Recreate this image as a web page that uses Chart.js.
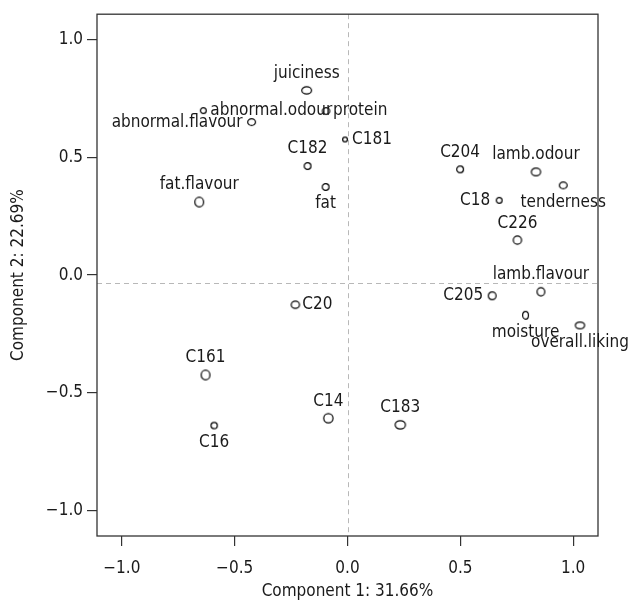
<!DOCTYPE html>
<html>
<head>
<meta charset="utf-8">
<script src="https://cdn.jsdelivr.net/npm/chart.js@4"></script>
<style>
  html, body { margin: 0; padding: 0; background: #fff; }
  #wrap { width: 630px; height: 603px; position: relative; }
</style>
</head>
<body>
<div id="wrap"><canvas id="pca"></canvas></div>
<script>
/* ─── DATA ─────────────────────────────────────────────────── */
const LABELS = [
  'juiciness', 'abnormal.odour', 'protein', 'abnormal.flavour', 'C181', 'C182',
  'fat.flavour', 'fat', 'C204', 'lamb.odour', 'tenderness', 'C18', 'C226',
  'lamb.flavour', 'C205', 'moisture', 'overall.liking', 'C20', 'C161', 'C14',
  'C183', 'C16',
];
const COMP1 = [
  -0.181, -0.639, -0.095, -0.425, -0.011, -0.177,
  -0.657, -0.097, 0.499, 0.835, 0.956, 0.672, 0.753,
  0.857, 0.641, 0.789, 1.030, -0.231, -0.629, -0.085,
  0.234, -0.591,
];
const COMP2 = [
  0.786, 0.700, 0.698, 0.651, 0.577, 0.464,
  0.311, 0.375, 0.450, 0.439, 0.382, 0.318, 0.149,
  -0.071, -0.088, -0.171, -0.214, -0.126, -0.425, -0.609,
  -0.637, -0.640,
];
const TICKS     = [-1.0, -0.5, 0.0, 0.5, 1.0];
const REF_X     = [0];
const REF_Y     = [-0.034];
const X_TITLE   = 'Component 1: 31.66%';
const Y_TITLE   = 'Component 2: 22.69%';

/* ─── STYLE (marker ellipse size, label side) ──────────────── */
const MARK_W = [11, 7, 8.5, 9, 6, 8, 10, 8, 8, 10.5, 9, 7, 9.5, 9, 9, 7, 10.5, 9.5, 10, 10.5, 11.5, 7.5];
const MARK_H = [8.5, 7, 8, 8, 6, 8, 11, 8, 8, 9, 8, 7, 9.5, 9.5, 9, 9, 8, 8.5, 11, 10.5, 9.5, 7.5];
const LABEL_SIDE = [
  'top', 'right', 'right', 'left', 'right', 'top',
  'top', 'bottom', 'top', 'top', 'bottom', 'left', 'top',
  'top', 'left', 'bottom', 'bottom', 'right', 'top', 'top',
  'top', 'bottom',
];

const FONT = '"Liberation Sans Narrow", "DejaVu Sans Condensed", "Roboto", sans-serif';
const TXT  = '#1a1a1a';

/** Vẽ marker hình ellipse rỗng */
function ellipseMark(w, h) {
  const c = document.createElement('canvas');
  c.width = Math.ceil(w + 2); c.height = Math.ceil(h + 2);
  const g = c.getContext('2d');
  g.strokeStyle = '#000'; g.lineWidth = 1.2;
  g.beginPath();
  g.ellipse(c.width / 2, c.height / 2, (w - 1.2) / 2, (h - 1.2) / 2, 0, 0, Math.PI * 2);
  g.stroke();
  return c;
}

const fmtTick = v => (Math.abs(v) < 1e-9 ? 0 : v).toFixed(1).replace('-', '\u2212');

/* ─── PLUGINS ──────────────────────────────────────────────── */
const framePlugin = {
  id: 'frame',
  beforeDatasetsDraw(chart) {
    const { ctx, chartArea: a, scales: { x, y } } = chart;
    ctx.save();
    ctx.strokeStyle = '#b8b8b8'; ctx.lineWidth = 1; ctx.setLineDash([5, 4]);
    REF_X.forEach(v => {
      const px = Math.round(x.getPixelForValue(v)) + 0.5;
      ctx.beginPath(); ctx.moveTo(px, a.top); ctx.lineTo(px, a.bottom); ctx.stroke();
    });
    REF_Y.forEach(v => {
      const py = Math.round(y.getPixelForValue(v)) + 0.5;
      ctx.beginPath(); ctx.moveTo(a.left, py); ctx.lineTo(a.right, py); ctx.stroke();
    });
    ctx.setLineDash([]);
    ctx.strokeStyle = '#333'; ctx.lineWidth = 1.3;
    ctx.strokeRect(a.left, a.top, a.right - a.left, a.bottom - a.top);
    ctx.restore();
  },
};

const labelPlugin = {
  id: 'pointLabels',
  afterDatasetsDraw(chart) {
    const { ctx } = chart;
    const meta = chart.getDatasetMeta(0);
    ctx.save();
    ctx.fillStyle = TXT;
    ctx.font = '17px ' + FONT;
    meta.data.forEach((pt, i) => {
      const side = LABEL_SIDE[i];
      let tx = pt.x, ty = pt.y;
      ctx.textAlign = 'center'; ctx.textBaseline = 'middle';
      if (side === 'top')    ty -= 17;
      if (side === 'bottom') ty += 17;
      if (side === 'left')  { tx -= 9; ctx.textAlign = 'right'; }
      if (side === 'right') { tx += 7; ctx.textAlign = 'left'; }
      ctx.fillText(LABELS[i], tx, ty);
    });
    ctx.restore();
  },
};

/* ─── CHART ────────────────────────────────────────────────── */
const axisBase = {
  type: 'linear', min: -1.11, max: 1.11,
  grid: { display: true, drawOnChartArea: false, drawTicks: true, tickLength: 10, tickColor: '#333', lineWidth: 1.2 },
  border: { display: false },
  ticks: { includeBounds: false, stepSize: 0.5, color: TXT, font: { family: FONT, size: 17 }, callback: fmtTick },
  afterBuildTicks: s => { s.ticks = TICKS.map(v => ({ value: v })); },
};

new Chart(document.getElementById('pca'), {
  type: 'scatter',
  data: {
    labels: LABELS,
    datasets: [{
      data: COMP1.map((v, i) => ({ x: v, y: COMP2[i] })),
      pointStyle: MARK_W.map((w, i) => ellipseMark(w, MARK_H[i])),
      pointRadius: 5,
    }],
  },
  options: {
    responsive: true, maintainAspectRatio: false, animation: false,
    layout: { padding: { left: 0, top: 14, right: 32, bottom: 0 } },
    plugins: { legend: { display: false }, tooltip: { enabled: false } },
    scales: {
      x: {
        ...axisBase,
        ticks: { ...axisBase.ticks, padding: 12, maxRotation: 0 },
        title: { display: true, text: X_TITLE, color: TXT, font: { family: FONT, size: 17 }, padding: { top: 0, bottom: 1 } },
        afterFit: s => { s.height = 67; },
      },
      y: {
        ...axisBase,
        ticks: { ...axisBase.ticks, padding: 4 },
        title: { display: true, text: Y_TITLE, color: TXT, font: { family: FONT, size: 17 }, padding: { top: 8, bottom: 0 } },
        afterFit: s => { s.width = 97; },
      },
    },
  },
  plugins: [framePlugin, labelPlugin],
});
</script>
</body>
</html>
